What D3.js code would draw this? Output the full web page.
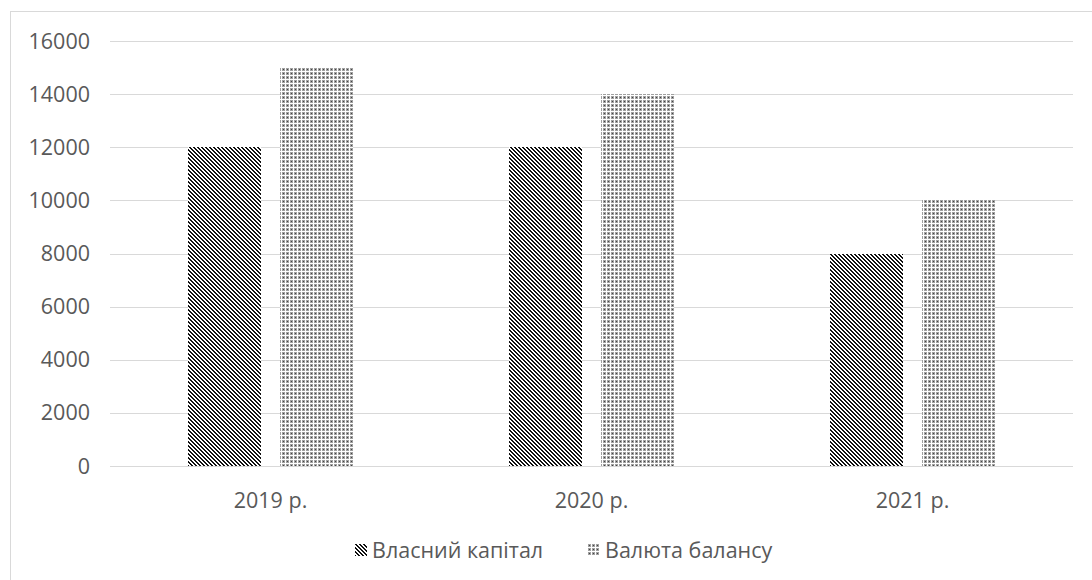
<!DOCTYPE html>
<html>
<head>
<meta charset="utf-8">
<script src="https://cdn.jsdelivr.net/npm/d3@7.9.0/dist/d3.min.js"></script>
<style>
  body { margin: 0; background: #fff; }
  svg text { font-family: "Open Sans", sans-serif; fill: #595959; }
</style>
</head>
<body>
<svg id="chart" width="1092" height="580"></svg>
<script>
// ---- data ----
const years = ["2019 р.", "2020 р.", "2021 р."];
const seriesNames = ["Власний капітал", "Валюта балансу"];
const equity = [12000, 12000, 8000];
const balance = [15000, 14000, 10000];
const yTicks = [0, 2000, 4000, 6000, 8000, 10000, 12000, 14000, 16000];

const svg = d3.select("#chart");
const defs = svg.append("defs");

// dark downward diagonal
const pDiag = defs.append("pattern")
  .attr("id", "diag").attr("patternUnits", "userSpaceOnUse")
  .attr("width", 4).attr("height", 4);
pDiag.append("rect").attr("width", 4).attr("height", 4).attr("fill", "#fff");
for (let r = 0; r < 4; r++) {
  for (let k = 0; k < 2; k++) {
    pDiag.append("rect")
      .attr("x", (r + k) % 4).attr("y", r)
      .attr("width", 1).attr("height", 1).attr("fill", "#111");
  }
}

// dotted grey
const pDot = defs.append("pattern")
  .attr("id", "dots").attr("patternUnits", "userSpaceOnUse")
  .attr("width", 4).attr("height", 4);
pDot.append("rect").attr("width", 4).attr("height", 4).attr("fill", "#fff");
pDot.append("rect").attr("width", 3).attr("height", 3).attr("fill", "#a0a0a0");
pDot.append("rect").attr("x", 1).attr("y", 1).attr("width", 1).attr("height", 1).attr("fill", "#444");

const fills = ["url(#diag)", "url(#dots)"];

// chart border
svg.append("rect")
  .attr("x", 10.5).attr("y", 11.5).attr("width", 1100).attr("height", 600)
  .attr("fill", "none").attr("stroke", "#d9d9d9");

const plotL = 110, plotR = 1073, plotT = 41, plotB = 466;

const x = d3.scaleBand().domain(years).range([plotL, plotR]);
const xInner = d3.scaleBand().domain(seriesNames)
  .range([77.5, x.bandwidth() - 77.5]).paddingInner(0.215);
const y = d3.scaleLinear().domain([0, 16000]).range([plotB, plotT]);

// gridlines
svg.append("g")
  .selectAll("line").data(yTicks).join("line")
  .attr("x1", plotL).attr("x2", plotR)
  .attr("y1", d => Math.round(y(d)) + 0.5).attr("y2", d => Math.round(y(d)) + 0.5)
  .attr("stroke", "#d9d9d9").attr("stroke-width", 1);

// y labels
svg.append("g")
  .selectAll("text").data(yTicks).join("text")
  .attr("x", 90).attr("y", d => y(d))
  .attr("dy", "0.35em").attr("text-anchor", "end")
  .attr("font-size", 21.5)
  .text(d => d);

// bars
const rows = years.map((yr, i) => ({ year: yr, vals: [equity[i], balance[i]] }));
const groups = svg.append("g").selectAll("g").data(rows).join("g")
  .attr("transform", d => `translate(${x(d.year)},0)`);
groups.selectAll("rect")
  .data(d => d.vals.map((v, j) => ({ name: seriesNames[j], v, j })))
  .join("rect")
  .attr("x", d => Math.round(xInner(d.name)))
  .attr("width", Math.round(xInner.bandwidth()))
  .attr("y", d => Math.round(y(d.v)))
  .attr("height", d => Math.round(y(0)) - Math.round(y(d.v)))
  .attr("fill", d => fills[d.j])
  .attr("shape-rendering", "crispEdges");

// x labels
svg.append("g")
  .selectAll("text").data(years).join("text")
  .attr("x", d => x(d) + x.bandwidth() / 2)
  .attr("y", 500).attr("dy", "0.35em")
  .attr("text-anchor", "middle").attr("font-size", 21.5)
  .text(d => d);

// legend
const legendX = [355, 588];
const lg = svg.append("g").selectAll("g").data(seriesNames).join("g")
  .attr("transform", (d, i) => `translate(${legendX[i]},544)`);
lg.append("rect")
  .attr("width", 12).attr("height", 12)
  .attr("fill", (d, i) => fills[i]).attr("shape-rendering", "crispEdges");
lg.append("text")
  .attr("x", 17).attr("y", 6).attr("dy", "0.35em")
  .attr("font-size", 21.5)
  .text(d => d);
</script>
</body>
</html>
